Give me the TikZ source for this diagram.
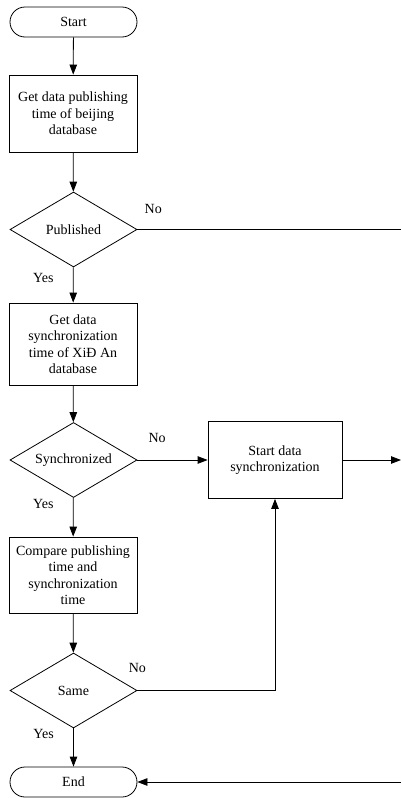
\documentclass[tikz,border=0pt]{standalone}
\usepackage{fontspec}
\setmainfont{Liberation Serif}
\usepackage{tikz}
\usetikzlibrary{arrows.meta,shapes.geometric,positioning,calc}

\begin{document}
\begin{tikzpicture}[x=1pt,y=-1pt,
    font=\fontsize{14}{16.5}\selectfont,
    every path/.style={line width=0.8pt},
    >={Triangle[length=10pt,width=7.5pt]},
    terminal/.style={draw,rectangle,rounded corners=15pt,minimum width=127pt,minimum height=30pt,inner sep=0pt},
    procbox/.style={draw,rectangle,align=center,minimum width=128pt,inner sep=0pt},
    decide/.style={draw,diamond,minimum width=127pt,minimum height=75pt,inner sep=0pt}]
\useasboundingbox (0,0) rectangle (401,798);
% main column
\node [terminal] (start) at (73.5,22) {Start};
\node [procbox,minimum height=77pt] (getpub) at (73,113.5) {Get data publishing\\time of beijing\\database};
\node [decide] (published) at (73.5,229.5) {\makebox[0pt]{Published}};
\node [procbox,minimum height=82pt] (getsync) at (73,344) {Get data\\synchronization\\time of XiĐ An\\database};
\node [decide] (synced) at (73.5,460) {\makebox[0pt]{Synchronized}};
\node [procbox,minimum height=76pt] (compare) at (73,575) {Compare publishing\\time and\\synchronization\\time};
\node [decide] (same) at (73.5,690.5) {\makebox[0pt]{Same}};
\node [terminal] (end) at (73.5,782) {End};
% side box
\node [procbox,minimum width=134pt,minimum height=77pt] (startsync) at (275,460) {Start data\\synchronization};
\coordinate (pubout) at (401,229.5);
\coordinate (syncout) at (401,460);
\coordinate (endin) at (401,782);
\coordinate (bend) at (startsync.south |- same.east);
\draw [->] (start) -- (getpub);
\draw [->] (getpub) -- (published);
\draw [->] (published) -- node [pos=0.3,left=16pt] {Yes} (getsync);
\draw (published.east) -- node [pos=0.06,above=12pt] {No} (pubout);
\draw [->] (getsync) -- (synced);
\draw [->] (synced) -- node [pos=0.15,left=16pt] {Yes} (compare);
\draw [->] (synced.east) -- node [pos=0.28,above=14pt] {No} (startsync.west);
\draw [->] (startsync.east) -- (syncout);
\draw [->] (compare) -- (same);
\draw [->] (same) -- node [pos=0.15,left=16pt] {Yes} (end);
\draw [->] (same.east) -- (bend) -- (startsync.south);
\node at ($(same.east)+(0,-23)$) {No};
\draw [->] (endin) -- (end.east);
\end{tikzpicture}
\end{document}
